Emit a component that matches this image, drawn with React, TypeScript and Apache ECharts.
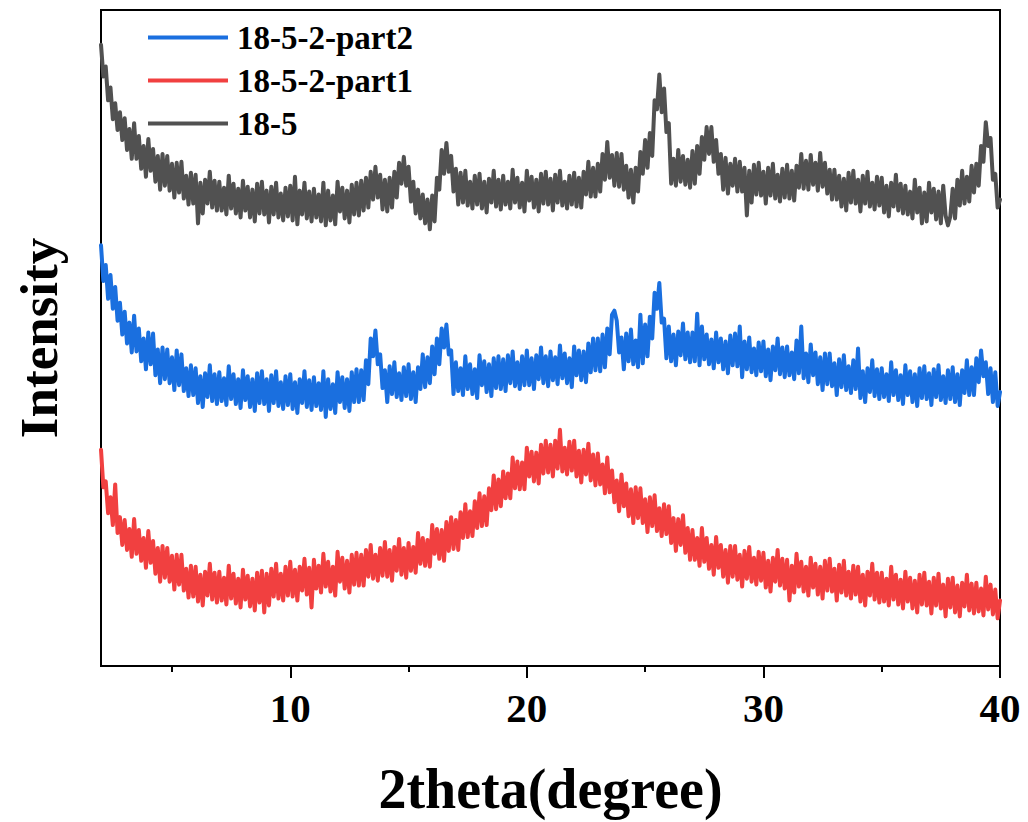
import React, { useEffect, useRef } from "react";
import * as echarts from "echarts";

// 2theta sampling grid (degrees)
const degStart = 2;
const degStep = 0.1;

// Intensity (arbitrary units), one value per 0.1 degree from 2.0 to 40.0
const gray185 = [
  626, 594, 604, 570, 583, 551, 567, 540, 558, 530,
  552, 520, 541, 511, 547, 511, 534, 501, 524, 493,
  531, 499, 521, 488, 514, 480, 516, 484, 514, 479,
  506, 472, 507, 477, 508, 471, 494, 465, 497, 466,
  495, 446, 487, 456, 490, 466, 498, 462, 489, 459,
  488, 459, 482, 455, 494, 461, 486, 456, 481, 452,
  489, 459, 483, 452, 480, 448, 486, 456, 488, 455,
  479, 447, 483, 455, 487, 452, 476, 449, 482, 453,
  484, 449, 493, 445, 479, 455, 487, 451, 478, 448,
  481, 452, 475, 448, 487, 444, 479, 449, 474, 445,
  488, 458, 482, 451, 479, 447, 485, 455, 487, 454,
  489, 459, 492, 462, 498, 470, 503, 472, 495, 460,
  490, 458, 492, 462, 498, 472, 507, 486, 513, 484,
  503, 468, 488, 456, 480, 451, 475, 446, 470, 440,
  474, 448, 492, 480, 520, 496, 527, 498, 514, 478,
  501, 465, 497, 467, 499, 464, 488, 461, 494, 465,
  496, 461, 488, 457, 491, 467, 499, 463, 490, 460,
  494, 465, 488, 461, 500, 467, 492, 462, 487, 458,
  499, 469, 493, 462, 490, 458, 496, 466, 498, 465,
  491, 459, 495, 467, 499, 464, 488, 461, 494, 465,
  497, 463, 492, 462, 498, 475, 508, 473, 502, 473,
  506, 478, 516, 490, 528, 492, 515, 484, 517, 483,
  516, 480, 504, 472, 500, 467, 502, 478, 518, 496,
  530, 502, 537, 514, 570, 561, 596, 558, 582, 538,
  547, 486, 511, 484, 520, 488, 514, 485, 510, 482,
  519, 486, 524, 496, 533, 510, 543, 516, 543, 508,
  530, 496, 516, 480, 512, 476, 506, 484, 511, 478,
  508, 478, 502, 454, 499, 467, 505, 475, 507, 474,
  498, 466, 502, 474, 506, 471, 495, 468, 501, 472,
  505, 471, 499, 469, 504, 482, 516, 481, 509, 480,
  515, 485, 507, 479, 517, 483, 507, 476, 500, 470,
  500, 470, 494, 463, 491, 459, 497, 467, 499, 466,
  490, 458, 494, 466, 498, 463, 487, 460, 493, 464,
  492, 457, 484, 453, 487, 463, 495, 459, 486, 456,
  484, 455, 478, 451, 490, 457, 482, 446, 477, 448,
  487, 457, 481, 450, 478, 446, 484, 454, 444, 453,
  481, 451, 490, 464, 499, 466, 493, 468, 504, 477,
  506, 484, 524, 508, 548, 524, 532, 490, 496, 462,
  470,
];

const bluePart2 = [
  424, 388, 404, 370, 394, 360, 382, 348, 366, 334,
  357, 325, 346, 316, 353, 317, 340, 307, 330, 299,
  336, 304, 335, 293, 319, 285, 321, 289, 319, 285,
  311, 278, 318, 283, 314, 277, 300, 272, 303, 273,
  300, 265, 292, 261, 295, 271, 303, 267, 294, 264,
  296, 267, 290, 263, 302, 269, 294, 264, 289, 260,
  298, 268, 292, 261, 289, 257, 295, 265, 297, 264,
  289, 257, 293, 265, 297, 262, 286, 259, 292, 263,
  294, 259, 286, 255, 289, 265, 297, 261, 288, 258,
  291, 262, 285, 258, 297, 251, 289, 259, 284, 255,
  296, 266, 291, 260, 289, 257, 296, 266, 299, 266,
  298, 268, 308, 284, 330, 312, 338, 304, 314, 280,
  298, 266, 302, 274, 306, 271, 295, 268, 301, 272,
  304, 269, 296, 266, 301, 279, 314, 281, 311, 285,
  322, 294, 330, 304, 340, 321, 344, 314, 318, 274,
  306, 277, 300, 273, 312, 279, 304, 274, 299, 270,
  313, 283, 307, 276, 304, 272, 310, 280, 312, 279,
  309, 277, 313, 285, 317, 282, 306, 279, 312, 283,
  318, 283, 310, 279, 313, 289, 321, 285, 312, 282,
  317, 288, 311, 284, 323, 290, 315, 285, 310, 281,
  322, 293, 318, 288, 317, 286, 325, 296, 330, 298,
  330, 297, 334, 301, 340, 314, 354, 358, 348, 316,
  331, 299, 335, 307, 339, 304, 328, 301, 354, 305,
  344, 312, 352, 330, 376, 360, 386, 346, 350, 310,
  342, 307, 334, 303, 337, 313, 345, 309, 336, 306,
  336, 307, 355, 303, 342, 309, 334, 304, 329, 300,
  336, 306, 330, 299, 327, 295, 333, 303, 335, 302,
  342, 291, 327, 299, 331, 296, 320, 293, 326, 297,
  327, 292, 319, 288, 322, 298, 330, 294, 321, 291,
  322, 293, 316, 289, 328, 295, 342, 290, 315, 286,
  324, 293, 316, 284, 311, 278, 315, 284, 315, 282,
  305, 273, 309, 281, 313, 278, 302, 275, 308, 279,
  320, 270, 297, 266, 300, 276, 308, 272, 299, 269,
  300, 271, 294, 267, 306, 273, 298, 268, 293, 264,
  303, 273, 297, 266, 294, 262, 300, 270, 302, 269,
  295, 263, 299, 271, 303, 268, 292, 265, 298, 269,
  301, 266, 294, 263, 298, 275, 308, 273, 301, 273,
  310, 286, 318, 292, 306, 274, 300, 266, 296, 262,
  276,
];

const redPart1 = [
  218, 180, 186, 154, 170, 142, 183, 134, 150, 122,
  147, 117, 138, 110, 148, 113, 137, 106, 129, 99,
  136, 104, 126, 93, 119, 85, 121, 89, 119, 85,
  111, 77, 112, 82, 112, 76, 98, 69, 101, 70,
  100, 65, 92, 61, 95, 71, 103, 67, 94, 64,
  95, 66, 89, 62, 101, 68, 93, 63, 88, 59,
  97, 67, 91, 60, 88, 56, 94, 64, 96, 54,
  93, 61, 98, 70, 103, 68, 93, 66, 100, 71,
  105, 70, 97, 66, 100, 76, 108, 72, 99, 59,
  107, 78, 101, 74, 113, 80, 105, 75, 100, 71,
  115, 85, 109, 78, 106, 74, 112, 82, 114, 81,
  112, 81, 117, 90, 122, 88, 112, 86, 119, 91,
  125, 90, 117, 86, 120, 96, 128, 92, 119, 89,
  124, 96, 120, 94, 134, 103, 129, 101, 127, 100,
  142, 113, 138, 108, 137, 106, 145, 116, 150, 118,
  147, 117, 155, 129, 163, 130, 156, 131, 166, 139,
  174, 141, 171, 142, 179, 157, 192, 158, 188, 161,
  196, 169, 194, 169, 210, 179, 206, 178, 205, 178,
  220, 191, 216, 186, 215, 184, 223, 194, 227, 195,
  223, 191, 227, 199, 238, 196, 220, 193, 226, 197,
  227, 191, 217, 185, 218, 193, 224, 187, 213, 182,
  214, 183, 203, 174, 210, 175, 197, 165, 187, 156,
  193, 161, 184, 151, 178, 144, 180, 149, 179, 144,
  168, 135, 170, 141, 172, 136, 159, 131, 163, 133,
  161, 124, 149, 116, 148, 122, 152, 114, 139, 107,
  137, 107, 129, 101, 139, 105, 129, 98, 122, 92,
  130, 99, 122, 90, 117, 84, 121, 90, 121, 87,
  112, 80, 116, 88, 120, 85, 109, 82, 115, 86,
  114, 79, 106, 75, 109, 85, 117, 81, 108, 78,
  107, 66, 101, 74, 113, 80, 105, 75, 100, 71,
  109, 79, 103, 72, 100, 68, 106, 76, 108, 75,
  98, 66, 102, 74, 106, 71, 95, 68, 101, 72,
  100, 65, 92, 61, 95, 71, 103, 67, 94, 64,
  94, 65, 88, 61, 100, 67, 92, 62, 87, 58,
  95, 65, 89, 58, 86, 54, 92, 62, 94, 61,
  85, 53, 89, 61, 93, 58, 82, 50, 88, 59,
  89, 54, 81, 50, 84, 60, 92, 56, 83, 53,
  84, 55, 78, 51, 90, 57, 82, 52, 77, 48,
  66,
];

const seriesNames = ["18-5-2-part2", "18-5-2-part1", "18-5"];
const seriesColors = ["#1A6FDF", "#F14040", "#515151"];
const seriesValues = [bluePart2, redPart1, gray185];

const majorTicks = [10, 20, 30, 40];
const minorTicks = [5, 15, 25, 35];
const xMin = 2;
const xMax = 40;
const yMin = 0;
const yMax = 661;

const FONT = "'Times New Roman', 'Liberation Serif', serif";

function toPairs(vals: number[]) {
  return vals.map((v, i) => [Number((degStart + i * degStep).toFixed(2)), v]);
}

export default function App() {
  const ref = useRef<HTMLDivElement>(null);
  useEffect(() => {
    if (!ref.current) return;
    const chart = echarts.init(ref.current, null, { renderer: "svg" });
    chart.setOption({
      animation: false,
      backgroundColor: "#ffffff",
      grid: {
        left: 101,
        right: 28,
        top: 10,
        bottom: 151,
        show: true,
        borderColor: "#000",
        borderWidth: 2,
        backgroundColor: "transparent",
      },
      legend: {
        orient: "vertical",
        left: 143,
        top: 16,
        icon: "rect",
        itemWidth: 80,
        itemHeight: 4,
        itemGap: 10,
        data: seriesNames,
        textStyle: {
          fontFamily: FONT,
          fontWeight: "bold",
          fontSize: 33,
          lineHeight: 33,
          color: "#000",
          padding: [0, 0, 0, 4],
        },
      },
      xAxis: [
        {
          type: "value",
          min: xMin,
          max: xMax,
          position: "bottom",
          name: "2theta(degree)",
          nameLocation: "middle",
          nameGap: 95,
          nameTextStyle: {
            fontFamily: FONT,
            fontWeight: "bold",
            fontSize: 56,
            color: "#000",
          },
          axisLine: { show: true, lineStyle: { color: "#000", width: 2 } },
          axisTick: {
            show: true,
            customValues: majorTicks,
            length: 12,
            lineStyle: { color: "#000", width: 2 },
          },
          axisLabel: {
            customValues: majorTicks,
            fontFamily: FONT,
            fontWeight: "bold",
            fontSize: 41,
            color: "#000",
            margin: 21,
          },
          splitLine: { show: false },
        },
        {
          type: "value",
          min: xMin,
          max: xMax,
          position: "bottom",
          axisLine: { show: false },
          axisTick: {
            show: true,
            customValues: minorTicks,
            length: 6,
            lineStyle: { color: "#000", width: 2 },
          },
          axisLabel: { show: false },
          splitLine: { show: false },
        },
      ],
      yAxis: {
        type: "value",
        min: yMin,
        max: yMax,
        name: "Intensity",
        nameLocation: "middle",
        nameGap: 36,
        nameTextStyle: {
          fontFamily: FONT,
          fontWeight: "bold",
          fontSize: 53,
          color: "#000",
        },
        axisLine: { show: true, lineStyle: { color: "#000", width: 2 } },
        axisTick: { show: false },
        axisLabel: { show: false },
        splitLine: { show: false },
      },
      series: seriesNames.map((name, k) => ({
        name,
        type: "line",
        xAxisIndex: 0,
        symbol: "none",
        color: seriesColors[k],
        lineStyle: { width: 4, color: seriesColors[k], join: "round", cap: "round" },
        data: toPairs(seriesValues[k]),
      })),
    });
    return () => chart.dispose();
  }, []);
  return (
    <div
      ref={ref}
      style={{ position: "fixed", left: 0, top: 0, width: 1028, height: 822 }}
    />
  );
}
